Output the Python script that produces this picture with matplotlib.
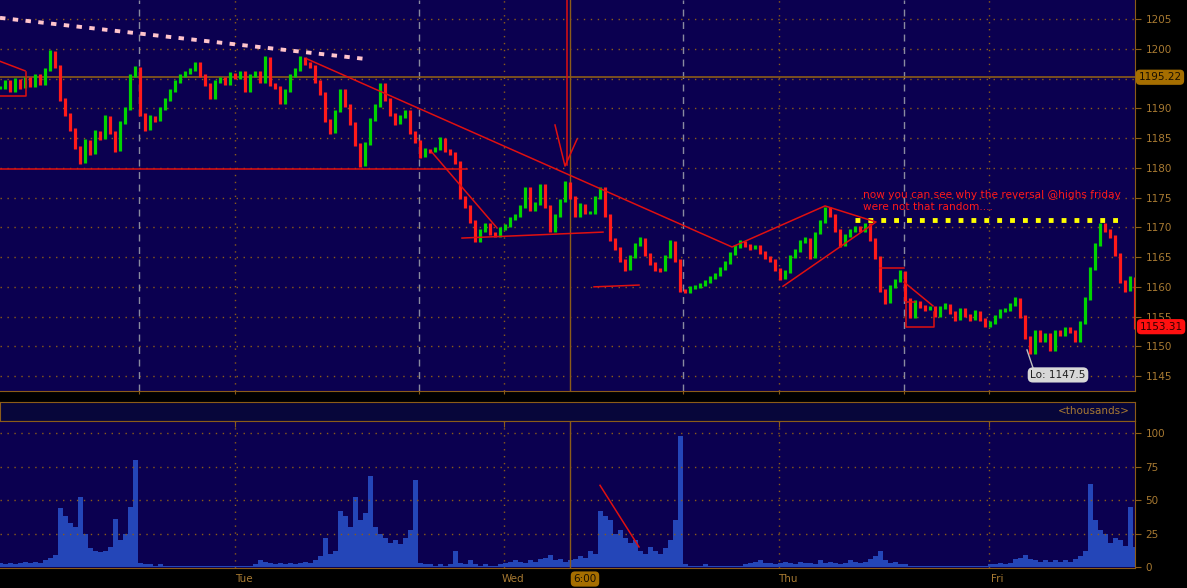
import matplotlib
matplotlib.use("Agg")
import matplotlib.pyplot as plt
import matplotlib.transforms as mtrans
import numpy as np

# closing prices, one bar per slot
closes = [
    1193.5, 1194.5, 1193.0, 1194.8, 1193.6, 1195.0, 1193.8, 1195.5, 1194.2, 1196.5,
    1199.5, 1197.0, 1191.5, 1189.0, 1186.5, 1183.5, 1181.0, 1184.5, 1182.5, 1186.0,
    1185.0, 1188.5, 1186.0, 1183.0, 1187.5, 1190.0, 1195.5, 1196.8, 1189.0, 1186.5,
    1188.5, 1188.0, 1190.0, 1191.5, 1193.0, 1194.5, 1195.5, 1196.0, 1196.5, 1197.5,
    1195.5, 1194.0, 1191.8, 1194.5, 1195.0, 1194.2, 1195.8, 1195.2, 1196.0, 1193.0,
    1195.5, 1196.0, 1194.5, 1198.5, 1194.0, 1193.5, 1191.0, 1193.0, 1195.5, 1196.5,
    1198.5, 1197.5, 1197.0, 1194.5, 1192.5, 1188.0, 1186.0, 1189.5, 1193.0, 1190.5,
    1187.5, 1184.0, 1180.5, 1184.0, 1188.0, 1190.5, 1194.0, 1191.5, 1189.0, 1187.5,
    1188.5, 1189.5, 1186.0, 1184.5, 1182.0, 1183.0, 1182.8, 1183.2, 1184.8, 1183.0,
    1182.5, 1181.0, 1175.0, 1173.5, 1171.0, 1167.8, 1169.5, 1170.5, 1169.0, 1168.6,
    1169.8, 1170.2, 1171.5, 1172.0, 1173.5, 1176.5, 1173.0, 1174.0, 1177.0, 1173.5,
    1169.5, 1172.0, 1174.5, 1177.5, 1175.0, 1172.0, 1173.8, 1172.5, 1172.5, 1175.0,
    1176.5, 1172.0, 1168.0, 1166.5, 1164.5, 1163.0, 1165.0, 1167.0, 1168.0, 1165.5,
    1164.0, 1163.0, 1162.8, 1165.0, 1167.5, 1164.5, 1159.5, 1159.2, 1159.8, 1160.0,
    1160.3, 1160.8, 1161.5, 1162.0, 1163.0, 1164.0, 1165.5, 1166.8, 1167.5, 1167.0,
    1166.5, 1166.8, 1165.8, 1165.0, 1164.5, 1163.0, 1161.5, 1162.5, 1165.0, 1166.0,
    1167.5, 1168.0, 1165.0, 1169.0, 1171.0, 1173.2, 1172.0, 1169.5, 1167.0, 1168.5,
    1169.5, 1170.0, 1169.5, 1170.5, 1168.0, 1165.0, 1159.5, 1157.5, 1160.0, 1161.0,
    1162.5, 1158.0, 1155.0, 1157.5, 1156.8, 1156.3, 1156.5, 1155.2, 1156.5, 1157.0,
    1155.8, 1154.6, 1156.2, 1155.3, 1154.6, 1155.8, 1154.5, 1153.5, 1154.0, 1155.0,
    1156.0, 1156.2, 1157.0, 1158.0, 1155.0, 1151.5, 1149.0, 1152.5, 1151.0, 1152.0,
    1149.5, 1152.5, 1152.0, 1153.0, 1152.5, 1151.0, 1154.0, 1158.0, 1163.0, 1167.0,
    1170.5, 1169.5, 1168.5, 1165.5, 1161.0, 1159.5, 1161.5, 1153.3,
]

# volume in thousands, same slots
volumes = [
    3, 2, 3, 2, 3, 4, 3, 4, 3, 5,
    7, 9, 44, 38, 33, 30, 52, 25, 14, 12,
    11, 12, 15, 36, 20, 25, 45, 80, 3, 2,
    2, 1, 2, 1, 1, 1, 1, 1, 1, 1,
    1, 1, 1, 1, 1, 1, 1, 1, 1, 1,
    1, 2, 5, 4, 3, 2, 3, 2, 3, 2,
    3, 4, 3, 5, 8, 22, 10, 12, 42, 38,
    30, 52, 35, 40, 68, 30, 25, 22, 18, 20,
    17, 22, 28, 65, 3, 2, 2, 1, 2, 1,
    2, 12, 3, 2, 5, 2, 1, 2, 1, 1,
    2, 3, 4, 5, 4, 3, 5, 4, 6, 7,
    9, 5, 6, 4, 5, 6, 8, 7, 12, 10,
    42, 38, 35, 25, 28, 22, 18, 20, 12, 10,
    15, 12, 10, 14, 20, 35, 98, 2, 1, 1,
    1, 2, 1, 1, 1, 1, 1, 1, 1, 2,
    3, 4, 5, 3, 3, 2, 3, 4, 3, 2,
    4, 3, 3, 2, 5, 3, 4, 3, 2, 3,
    5, 4, 3, 4, 6, 8, 12, 5, 3, 4,
    2, 2, 1, 1, 1, 1, 1, 1, 1, 1,
    1, 1, 1, 1, 1, 1, 1, 1, 2, 2,
    3, 2, 3, 6, 7, 9, 6, 5, 4, 5,
    4, 5, 4, 5, 4, 6, 8, 12, 62, 35,
    28, 25, 18, 22, 20, 16, 45, 15,
]

day_names = ["Tue", "Wed", "Thu", "Fri"]
day_pos = [47.0, 100.8, 155.8, 197.8]      # slot where each day starts
session_pos = [27.8, 83.8, 136.6, 180.8]    # session breaks (grey dashes)
marker_pos = 113.9                          # 6:00 cursor
ref_level = 1195.22
last_price = 1153.31
low_price = 1147.5
yellow_level = 1171.25
price_ticks = list(range(1145, 1210, 5))

BG = "#0b0050"
ORANGE = "#8c5c18"
LABEL = "#a87a32"
RED = "#ff1a1a"
GREEN = "#00d400"

x = np.arange(len(closes))
c = np.array(closes)
o = np.r_[c[0], c[:-1]]

fig = plt.figure(figsize=(11.87, 5.88), dpi=100, facecolor="black")
W, H = 1187.0, 588.0
ax = fig.add_axes([0, 1 - 391 / H, 1135 / W, 391 / H])
ax_h = fig.add_axes([0, 1 - 421 / H, 1135 / W, 19 / H])
ax_v = fig.add_axes([0, 20 / H, 1135 / W, 147 / H])

# ---------- price panel ----------
ax.set_facecolor(BG)
ax.set_xlim(0, 227)
ax.set_ylim(1142.5, 1208.2)
ax.yaxis.tick_right()
ax.set_yticks(price_ticks)
# 1195 label sits under the reference-line price box
ax.set_yticklabels(["" if t == 1195 else str(t) for t in price_ticks])
ax.tick_params(axis="y", colors=ORANGE, labelcolor=LABEL, labelsize=7.5, length=4)
ax.set_xticks(day_pos + session_pos)
ax.tick_params(axis="x", colors=ORANGE, length=2, labelbottom=False)
for s in ["left", "top"]:
    ax.spines[s].set_visible(False)
for s in ["right", "bottom"]:
    ax.spines[s].set_color(ORANGE)
ax.grid(axis="y", color=ORANGE, linestyle=(0, (1, 4)), linewidth=1)
for d in day_pos:
    ax.axvline(d, color=ORANGE, linestyle=(0, (1, 4)), linewidth=1)
for sp in session_pos:
    ax.axvline(sp, color="#8a8aa0", linestyle=(0, (5, 4)), linewidth=1)
ax.axvline(marker_pos, color=ORANGE, linewidth=1)
ax.axhline(ref_level, color=ORANGE, linewidth=1.2)

up = c >= o
ax.vlines(x[up], o[up] - 0.2, c[up] + 0.3, color=GREEN, linewidth=2.3)
ax.vlines(x[~up], c[~up] - 0.3, o[~up] + 0.2, color=RED, linewidth=2.3)

# drawn annotations
ax.plot([0, 73], [1205.2, 1198.3], color="#ffc4cc", linewidth=2.8, linestyle=(0, (1.4, 1.9)))
ax.plot([171, 223.6], [yellow_level, yellow_level], color="#ffff00", linewidth=3.5,
        linestyle=(0, (1, 1.65)))
segs = [
    ([0, 5], [1197.9, 1196.3]),
    ([0, 5.2, 5.2], [1192.1, 1192.1, 1196.1]),
    ([0, 93.4], [1179.8, 1179.8]),
    ([61.4, 146.4, 165, 175.2, 156.6], [1198.3, 1166.7, 1173.6, 1170.9, 1160.1]),
    ([86.4, 99.4], [1182.6, 1169.9]),
    ([92.4, 120.6], [1168.2, 1169.2]),
    ([118.8, 127.8], [1160.0, 1160.3]),
    ([113.4, 113.4], [1208.2, 1180.4]),
    ([111, 113, 115.4], [1187.2, 1180.3, 1184.8]),
    ([176, 180.8], [1163.2, 1163.2]),
    ([180.8, 186.6], [1160.8, 1156.8]),
    ([183, 181.2, 181.2, 186.8, 186.8], [1157.4, 1157.4, 1153.2, 1153.2, 1155.7]),
]
for sx, sy in segs:
    ax.plot(sx, sy, color="#e01010", linewidth=1.1)

ax.text(172.6, 1176.2, "now you can see why the reversal @highs friday\nwere not that random....",
        color=RED, fontsize=7.6, va="top", ha="left", linespacing=1.15)

ax.plot([205.4, 206.6], [1149.4, 1146.4], color="#c0c0c0", linewidth=1)
ax.text(211.6, 1145.2, "Lo: %.1f" % low_price, color="#202020", fontsize=7.5,
        ha="center", va="center",
        bbox=dict(boxstyle="round,pad=0.25,rounding_size=0.5", fc="#d8d8d8", ec="none"))

tr = mtrans.blended_transform_factory(ax.transAxes, ax.transData)
ax.text(1.003, ref_level, "%.2f" % ref_level, transform=tr, color="#1a1000", fontsize=7.5,
        ha="left", va="center",
        bbox=dict(boxstyle="round,pad=0.25,rounding_size=0.4", fc="#a56e00", ec="none"))
ax.text(1.004, last_price, "%.2f" % last_price, transform=tr, color="#300000", fontsize=7.5,
        ha="left", va="center",
        bbox=dict(boxstyle="round,pad=0.25,rounding_size=0.4", fc="#ff1010", ec="none"))

# ---------- header strip ----------
ax_h.set_facecolor("#07063a")
ax_h.set_xticks([])
ax_h.set_yticks([])
for s in ax_h.spines.values():
    s.set_color(ORANGE)
ax_h.text(0.995, 0.5, "<thousands>", transform=ax_h.transAxes, color=LABEL,
          fontsize=7.5, ha="right", va="center")

# ---------- volume panel ----------
ax_v.set_facecolor(BG)
ax_v.set_xlim(0, 227)
ax_v.set_ylim(-0.7, 109)
ax_v.bar(x, volumes, width=1.0, color="#2446b8", linewidth=0)
ax_v.yaxis.tick_right()
ax_v.set_yticks([0, 25, 50, 75, 100])
ax_v.tick_params(axis="y", colors=ORANGE, labelcolor=LABEL, labelsize=7.5, length=4)
ax_v.set_xticks(day_pos)
ax_v.tick_params(axis="x", colors=ORANGE, top=True, bottom=False, direction="in",
                 length=4, labelbottom=False)
ax_v.spines["left"].set_visible(False)
for s in ["right", "bottom", "top"]:
    ax_v.spines[s].set_color(ORANGE)
for lv in [25, 50, 75, 100]:
    ax_v.axhline(lv, color=ORANGE, linestyle=(0, (1, 4)), linewidth=1)
for d in day_pos:
    ax_v.axvline(d, color=ORANGE, linestyle=(0, (1, 4)), linewidth=1)
ax_v.axvline(marker_pos, color=ORANGE, linewidth=1)
ax_v.plot([120, 127.8], [61, 15], color="#e01010", linewidth=1.1)

xt = ax_v.get_xaxis_transform()
for name, d in zip(day_names, day_pos):
    ax_v.text(d + 1.7, -0.075, name, transform=xt, color=LABEL, fontsize=7.5,
              ha="center", va="center")
ax_v.text(117, -0.075, "6:00", transform=xt, color="#1a1000", fontsize=7.5,
          ha="center", va="center",
          bbox=dict(boxstyle="round,pad=0.25,rounding_size=0.4", fc="#a56e00", ec="none"))

fig.savefig("out.png", dpi=100, facecolor="black")
